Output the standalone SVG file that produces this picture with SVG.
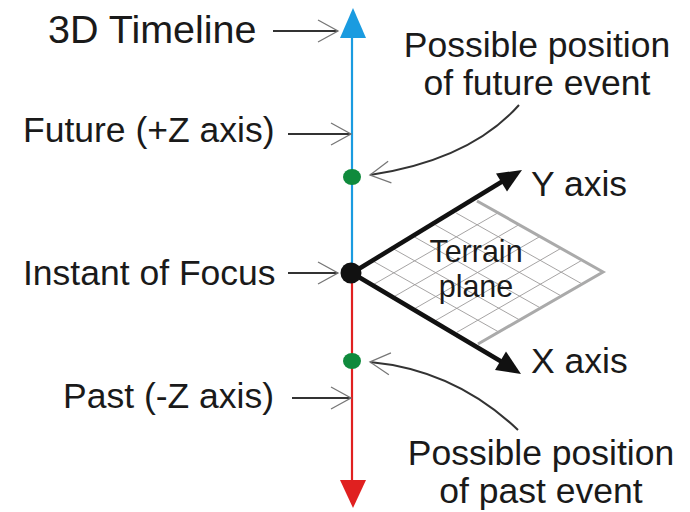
<svg xmlns="http://www.w3.org/2000/svg" width="690" height="512" viewBox="0 0 690 512">
<defs>
<style>
text{font-family:"Liberation Sans",Arial,sans-serif;fill:#1a1a1a}
.lbl{font-size:35.5px}
.title{font-size:39.5px}
.terr{font-size:30.5px}
.ptr{fill:none;stroke:#333;stroke-width:2}
.grid{stroke:#9c9a9a;stroke-width:0.9;fill:none}
.edge{stroke:#aaa;stroke-width:3;fill:none}
.axis{stroke:#111;stroke-width:4.5;fill:none}
</style>
<marker id="chev" markerUnits="userSpaceOnUse" markerWidth="30" markerHeight="30" viewBox="-24 -15 30 30" refX="0" refY="0" orient="auto">
<path d="M-20,-11 L0,0 L-20,11" fill="none" stroke="#777" stroke-width="1.3"/>
</marker>
</defs>
<rect width="690" height="512" fill="#fff"/>

<g id="terrain-plane">
<polygon points="352,273 477,201 603,272 478,344" fill="#fff"/>
<g class="grid">
<line x1="373" y1="284.8" x2="498" y2="212.8"/>
<line x1="394" y1="296.7" x2="519" y2="224.7"/>
<line x1="415" y1="308.5" x2="540" y2="236.5"/>
<line x1="436" y1="320.3" x2="561" y2="248.3"/>
<line x1="457" y1="332.2" x2="582" y2="260.2"/>
<line x1="372.8" y1="261" x2="498.8" y2="332"/>
<line x1="393.7" y1="249" x2="519.7" y2="320"/>
<line x1="414.5" y1="237" x2="540.5" y2="308"/>
<line x1="435.3" y1="225" x2="561.3" y2="296"/>
<line x1="456.2" y1="213" x2="582.2" y2="284"/>
</g>
<polyline class="edge" points="477,201 603,272 478,344"/>
<text class="terr" x="476" y="262" text-anchor="middle">Terrain</text>
<text class="terr" x="476" y="297" text-anchor="middle">plane</text>
</g>

<g id="timeline">
<line x1="352" y1="36" x2="352" y2="273" stroke="#1a9be0" stroke-width="2.2"/>
<line x1="352" y1="273" x2="352" y2="482" stroke="#e02020" stroke-width="2.2"/>
<polygon points="353,8 340,38 366,38" fill="#1a9be0"/>
<polygon points="340,480 366,480 353,508" fill="#e02020"/>
</g>

<g id="y-axis">
<line class="axis" x1="352" y1="273" x2="503" y2="181"/>
<polygon points="522,170 507,191.5 496,173.5" fill="#111"/>
<text class="lbl" x="531" y="196">Y axis</text>
</g>
<g id="x-axis">
<line class="axis" x1="352" y1="273" x2="502" y2="362"/>
<polygon points="521,374 495,370 506,351.5" fill="#111"/>
<text class="lbl" x="531" y="373">X axis</text>
</g>

<g id="future-event-dot"><ellipse cx="352" cy="177" rx="9" ry="8" fill="#0f8a3c"/></g>
<g id="past-event-dot"><ellipse cx="352" cy="361" rx="9" ry="8" fill="#0f8a3c"/></g>
<g id="instant-dot"><circle cx="351" cy="273" r="10.5" fill="#111"/></g>

<g id="label-3d-timeline"><text class="title" x="48" y="43">3D Timeline</text></g>
<g id="label-future"><text class="lbl" x="23" y="142">Future (+Z axis)</text></g>
<g id="label-instant"><text class="lbl" x="23" y="285">Instant of Focus</text></g>
<g id="label-past"><text class="lbl" x="63" y="408">Past (-Z axis)</text></g>
<g id="label-future-event">
<text class="lbl" x="537" y="57" text-anchor="middle">Possible position</text>
<text class="lbl" x="537" y="95" text-anchor="middle">of future event</text>
</g>
<g id="label-past-event">
<text class="lbl" x="541" y="465" text-anchor="middle">Possible position</text>
<text class="lbl" x="541" y="503" text-anchor="middle">of past event</text>
</g>

<g id="connectors">
<line class="ptr" x1="273" y1="31" x2="338" y2="31" marker-end="url(#chev)"/>
<line class="ptr" x1="288" y1="134" x2="351" y2="134" marker-end="url(#chev)"/>
<line class="ptr" x1="288" y1="273" x2="338" y2="273" marker-end="url(#chev)"/>
<line class="ptr" x1="292" y1="398" x2="351" y2="398" marker-end="url(#chev)"/>
<path class="ptr" d="M519,105 Q470,160 370,175" marker-end="url(#chev)"/>
<path class="ptr" d="M518,430 Q455,370 370,362" marker-end="url(#chev)"/>
</g>
</svg>
